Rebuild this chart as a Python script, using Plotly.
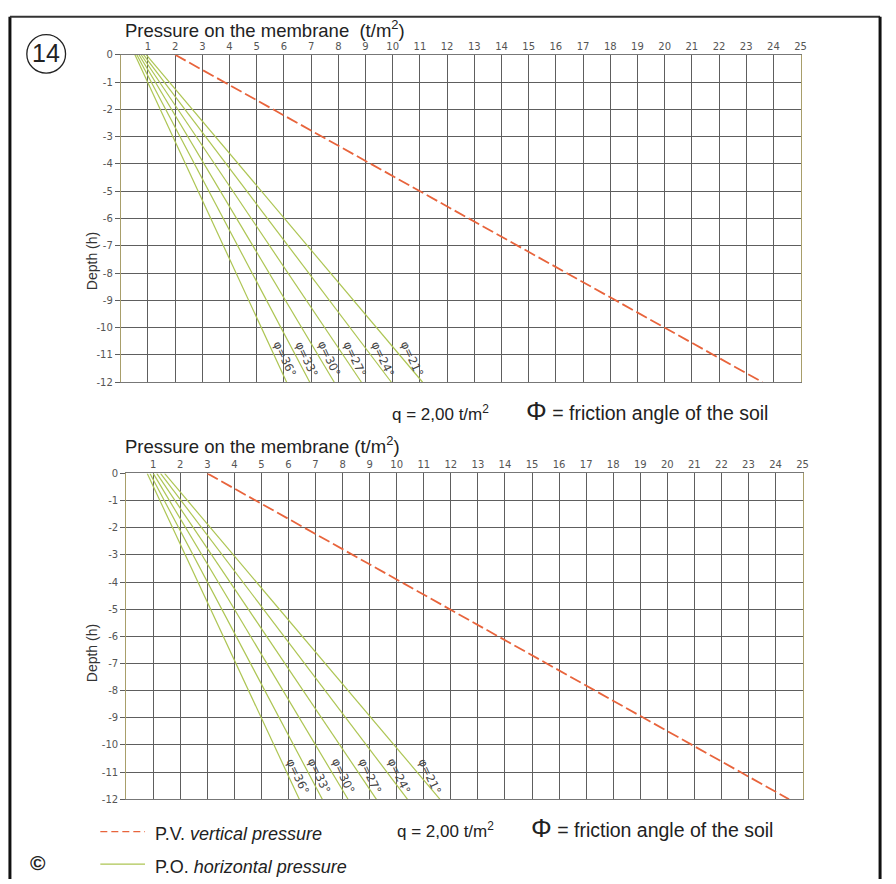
import plotly.graph_objects as go

W, H = 896, 884

# ---------------- data ----------------
phi_angles = [21, 24, 27, 30, 33, 36]
depth_ends = [0, -12]

# top chart (q = 2,00 t/m2)
top_po_surface = [0.94, 0.84, 0.75, 0.67, 0.59, 0.52]
top_po_bottom = [11.1, 9.95, 8.85, 7.85, 6.95, 6.1]
top_pv = [2.0, 23.6]

# bottom chart
bot_po_surface = [1.42, 1.27, 1.13, 1.0, 0.88, 0.78]
bot_po_bottom = [11.6, 10.4, 9.25, 8.2, 7.25, 6.4]
bot_pv = [3.0, 24.5]

x_ticks = list(range(1, 26))
y_ticks = list(range(0, -13, -1))
y_ticktext = ["0" if v == 0 else "-" + str(-v) for v in y_ticks]

label_depth = -11.15

RED = "#e8643c"
GREEN = "#adc553"
GRID = "#5e5e5e"


def px(x):
    return x / W


def py(y):
    return 1 - y / H


fig = go.Figure()

panels = [
    ("x", "y", top_po_surface, top_po_bottom, top_pv),
    ("x2", "y2", bot_po_surface, bot_po_bottom, bot_pv),
]

annotations = []
for xa, ya, surf, bott, pv in panels:
    for phi, s, b in zip(phi_angles, surf, bott):
        fig.add_trace(go.Scatter(x=[s, b], y=depth_ends, mode="lines",
                                 line=dict(color=GREEN, width=1.2),
                                 xaxis=xa, yaxis=ya, showlegend=False,
                                 hoverinfo="skip"))
        frac = (depth_ends[0] - label_depth) / (depth_ends[0] - depth_ends[1])
        lx = s + (b - s) * frac
        annotations.append(dict(x=lx, y=label_depth, xref=xa, yref=ya,
                                xanchor="center", yanchor="middle",
                                text=f"φ={phi}°", showarrow=False,
                                textangle=65, xshift=9,
                                font=dict(family="DejaVu Sans", size=11.5,
                                          color="#444")))
    fig.add_trace(go.Scatter(x=pv, y=depth_ends, mode="lines",
                             line=dict(color=RED, width=1.8, dash="12px,4px"),
                             xaxis=xa, yaxis=ya, showlegend=False,
                             hoverinfo="skip"))

axis_common_x = dict(range=[0, 25], side="top", tickvals=x_ticks,
                     showgrid=True, gridcolor=GRID, gridwidth=1,
                     showline=True, linecolor="#777", linewidth=1, mirror=True,
                     ticks="", zeroline=False,
                     tickfont=dict(family="DejaVu Sans", size=10, color="#555"))
axis_common_y = dict(range=[-12, 0], tickvals=y_ticks, ticktext=y_ticktext,
                     showgrid=True, gridcolor=GRID, gridwidth=1,
                     showline=True, linecolor="#a89e6a", linewidth=1, mirror=True,
                     ticks="outside", ticklen=5, tickcolor=GRID, zeroline=False,
                     tickfont=dict(family="DejaVu Sans", size=10, color="#555"))

fig.update_layout(
    width=W, height=H,
    margin=dict(l=0, r=0, t=0, b=0),
    paper_bgcolor="white", plot_bgcolor="white",
    xaxis=dict(domain=[px(121.6), px(806)], anchor="y", **axis_common_x),
    yaxis=dict(domain=[py(381), py(49.4)], anchor="x", **axis_common_y),
    xaxis2=dict(domain=[px(127), px(808)], anchor="y2", **axis_common_x),
    yaxis2=dict(domain=[py(803.3), py(473.3)], anchor="x2", **axis_common_y),
)

TXT = "Liberation Sans"


def note(x, y, text, size, xanchor="left", angle=0, color="#222",
         yanchor="middle"):
    return dict(x=px(x), y=py(y), xref="paper", yref="paper",
                xanchor=xanchor, yanchor=yanchor, showarrow=False,
                text=text, textangle=angle,
                font=dict(family=TXT, size=size, color=color))


PHI_NOTE = "<span style='font-size:26px'>Φ</span> = friction angle of the soil"
Q_NOTE = "q = 2,00 t/m<sup>2</sup>"

annotations += [
    note(124, 37, "Pressure on the membrane  (t/m<sup>2</sup>)", 18.5,
         yanchor="bottom"),
    note(124, 459, "Pressure on the membrane (t/m<sup>2</sup>)", 18.5,
         yanchor="bottom"),
    note(92, 258, "Depth (h)", 14, xanchor="center", angle=-90, color="#333"),
    note(92, 655, "Depth (h)", 14, xanchor="center", angle=-90, color="#333"),
    note(46, 48, "14", 25, xanchor="center"),
    note(393, 412, Q_NOTE, 17),
    note(775, 410, PHI_NOTE, 19.5, xanchor="right"),
    note(398, 834, Q_NOTE, 17),
    note(780, 832, PHI_NOTE, 19.5, xanchor="right"),
    note(154, 838, "P.V. <i>vertical pressure</i>", 18),
    note(154, 872, "P.O. <i>horizontal pressure</i>", 18),
    note(38, 867, "<b>©</b>", 21, xanchor="center"),
]

shapes = [
    # outer frame
    dict(type="line", xref="paper", yref="paper", x0=px(10), x1=px(10),
         y0=py(11), y1=py(884), line=dict(color="#111", width=3)),
    dict(type="line", xref="paper", yref="paper", x0=px(10), x1=px(886),
         y0=py(11), y1=py(11), line=dict(color="#333", width=2)),
    dict(type="line", xref="paper", yref="paper", x0=px(886), x1=px(886),
         y0=py(11), y1=py(884), line=dict(color="#111", width=3)),
    # circle round 14
    dict(type="circle", xref="paper", yref="paper", x0=px(27), x1=px(66),
         y0=py(68), y1=py(29), line=dict(color="#222", width=1.3)),
    # legend samples
    dict(type="line", xref="paper", yref="paper", x0=px(101), x1=px(146),
         y0=py(836), y1=py(836), line=dict(color=RED, width=1.3, dash="7px,4px")),
    dict(type="line", xref="paper", yref="paper", x0=px(101), x1=px(146),
         y0=py(869), y1=py(869), line=dict(color=GREEN, width=1.3)),
]

fig.update_layout(annotations=annotations, shapes=shapes)

fig.write_html("out.html")
